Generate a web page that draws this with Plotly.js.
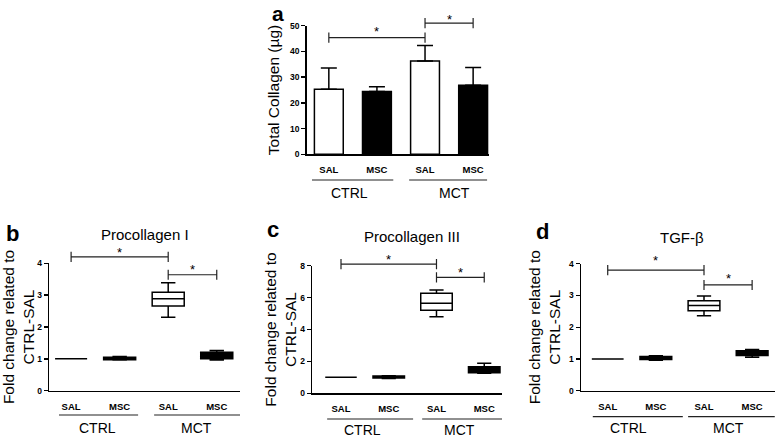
<!DOCTYPE html>
<html><head><meta charset="utf-8">
<script src="https://cdn.plot.ly/plotly-3.0.1.min.js"></script>
<style>html,body{margin:0;padding:0;background:#fff}</style>
</head><body><div id="chart" style="width:778px;height:438px"></div>
<script>
// ---- data ----
const groups = ["CTRL", "CTRL", "MCT", "MCT"];
const treatments = ["SAL", "MSC", "SAL", "MSC"];

// panel a: Total collagen (µg), mean and SD (upper)
const collagenMean = [25.3, 24.4, 36.3, 26.8];
const collagenErr = [8.3, 1.9, 6.0, 6.9];

// panel b: Procollagen I (fold change)
const proc1Low = [1, 0.96, 2.31, 0.96];
const proc1Q1 = [1, 0.97, 2.66, 1.00];
const proc1Med = [1, 1.00, 2.89, 1.10];
const proc1Q3 = [1, 1.05, 3.09, 1.21];
const proc1High = [1, 1.07, 3.39, 1.26];

// panel c: Procollagen III (fold change)
const proc3Low = [1, 0.93, 4.80, 1.25];
const proc3Q1 = [1, 0.96, 5.20, 1.29];
const proc3Med = [1, 1.00, 5.64, 1.50];
const proc3Q3 = [1, 1.08, 6.27, 1.67];
const proc3High = [1, 1.10, 6.48, 1.88];

// panel d: TGF-beta (fold change)
const tgfLow = [1, 0.96, 2.36, 1.05];
const tgfQ1 = [1, 0.98, 2.52, 1.11];
const tgfMed = [1, 1.03, 2.68, 1.19];
const tgfQ3 = [1, 1.08, 2.83, 1.26];
const tgfHigh = [1, 1.10, 2.98, 1.30];

// significance comparisons (index pairs) and bracket levels
const sigPairs = [[0, 2], [2, 3]];
const sigLevelsA = [45.4, 51.0];
const sigLevelsB = [4.2, 3.64];
const sigLevelsC = [8.1, 7.27];
const sigLevelsD = [3.8, 3.33];

// ---- drawing ----
const FONT = 'Liberation Sans, Arial, Helvetica, sans-serif';
const W = 778, H = 438;
const idx = treatments.map((_, i) => i);
const px = x => x / W;
const py = y => 1 - y / H;

const traces = [];
const shapes = [];
const annotations = [];
const layout = {
  width: W, height: H,
  margin: {l: 0, r: 0, t: 0, b: 0},
  paper_bgcolor: '#fff', plot_bgcolor: 'rgba(0,0,0,0)',
  showlegend: false, boxmode: 'overlay',
  font: {family: FONT, color: '#000'},
  shapes: shapes, annotations: annotations
};

function xAxis(domain, range) {
  return {
    domain: domain, range: range, showgrid: false, zeroline: false,
    showline: true, linecolor: '#000', linewidth: 1.5,
    tickmode: 'array', tickvals: idx, ticktext: treatments,
    ticks: 'outside', ticklen: 6, tickcolor: 'rgba(0,0,0,0)',
    tickfont: {family: FONT, size: 9.5, weight: 'bold', color: '#000'},
    fixedrange: true
  };
}
function yAxis(domain, range, dtick, title, standoff, tsize) {
  return {
    domain: domain, range: range, dtick: dtick, showgrid: false, zeroline: false,
    showline: true, linecolor: '#000', linewidth: 1.5,
    ticks: 'outside', ticklen: 4, tickwidth: 1.3, tickcolor: '#000',
    tickfont: {family: FONT, size: 8.5, weight: 'bold', color: '#000'},
    title: {text: title, font: {family: FONT, size: tsize, color: '#000'}, standoff: standoff},
    fixedrange: true
  };
}

function addPanel(n, cfg) {
  const xa = n === 1 ? 'x' : 'x' + n;
  const ya = n === 1 ? 'y' : 'y' + n;
  layout[n === 1 ? 'xaxis' : 'xaxis' + n] = Object.assign(xAxis(cfg.xDomain, cfg.xRange), {anchor: ya});
  layout[n === 1 ? 'yaxis' : 'yaxis' + n] = Object.assign(
    yAxis(cfg.yDomain, cfg.yRange, cfg.dtick, cfg.yTitle, cfg.standoff, cfg.titleSize), {anchor: xa});
  // brackets may rise above the top tick: place them in the y-axis domain frame (not clipped)
  const r = cfg.yRange;
  const frac = v => (v - r[0]) / (r[1] - r[0]);
  sigPairs.forEach((p, k) => {
    const v = cfg.sig[k], d = cfg.tick;
    shapes.push({type: 'path', xref: xa, yref: ya + ' domain',
      path: `M${p[0]},${frac(v - d)} L${p[0]},${frac(v + d)} M${p[0]},${frac(v)} L${p[1]},${frac(v)} M${p[1]},${frac(v - d)} L${p[1]},${frac(v + d)}`,
      line: {color: '#222', width: 1.2}});
    annotations.push({xref: xa, yref: ya + ' domain', x: (p[0] + p[1]) / 2, y: frac(v), text: '*', showarrow: false,
      yanchor: 'middle', yshift: cfg.starShift[k], font: {family: FONT, size: 13, color: '#000'}});
  });
  // group lines and labels
  ['CTRL', 'MCT'].forEach((g, k) => {
    shapes.push({type: 'line', xref: xa, yref: 'paper', x0: cfg.groupSpan[k][0], x1: cfg.groupSpan[k][1],
      y0: cfg.groupLineY, y1: cfg.groupLineY, line: {color: '#222', width: 1.2}});
    annotations.push({xref: xa, yref: 'paper', x: cfg.groupLabelX[k], y: cfg.groupLabelY, text: g,
      showarrow: false, xanchor: 'center', yanchor: 'middle', font: {family: FONT, size: 14, color: '#000'}});
  });
}

// panel a: bars
traces.push({
  type: 'bar', x: idx, y: collagenMean, xaxis: 'x', yaxis: 'y', width: 0.6,
  marker: {color: treatments.map(t => t === 'SAL' ? '#fff' : '#000'), line: {color: '#000', width: 1.5}},
  error_y: {type: 'data', symmetric: false, array: collagenErr, arrayminus: collagenErr.map(() => 0),
    color: '#000', thickness: 1.5, width: 8},
  hoverinfo: 'skip'
});
addPanel(1, {
  xDomain: [px(306.7), px(489)], xRange: [-0.46, 3.33],
  yDomain: [py(154.3), py(25.7)], yRange: [0, 50], dtick: 10,
  yTitle: 'Total Collagen (µg)', standoff: 6, titleSize: 15.5,
  sig: sigLevelsA, tick: 2.0, starShift: [6, 4],
  groupSpan: [[-0.35, 1.34], [1.67, 3.29]], groupLineY: py(180),
  groupLabelX: [0.42, 2.61], groupLabelY: py(193)
});

// box panels
function addBoxes(n, low, q1, med, q3, high) {
  const xa = 'x' + n, ya = 'y' + n;
  ['SAL', 'MSC'].forEach(t => {
    const ids = idx.filter(i => treatments[i] === t);
    traces.push({
      type: 'box', orientation: 'v', xaxis: xa, yaxis: ya, x: ids,
      lowerfence: ids.map(i => low[i]), q1: ids.map(i => q1[i]), median: ids.map(i => med[i]),
      q3: ids.map(i => q3[i]), upperfence: ids.map(i => high[i]),
      width: 0.66, whiskerwidth: 0.45, boxpoints: false,
      fillcolor: t === 'SAL' ? '#fff' : '#000', line: {color: '#000', width: 1.5},
      hoverinfo: 'skip'
    });
  });
}
const fcTitle = 'Fold change related to<br>CTRL-SAL';

addBoxes(2, proc1Low, proc1Q1, proc1Med, proc1Q3, proc1High);
addPanel(2, {
  xDomain: [px(49.3), px(240)], xRange: [-0.449, 3.479],
  yDomain: [py(390.7), py(263.3)], yRange: [0, 4], dtick: 1,
  yTitle: fcTitle, standoff: 5, titleSize: 15.5,
  sig: sigLevelsB, tick: 0.16, starShift: [4, 5],
  groupSpan: [[-0.25, 1.38], [1.71, 3.48]], groupLineY: py(415),
  groupLabelX: [0.54, 2.59], groupLabelY: py(428)
});

addBoxes(3, proc3Low, proc3Q1, proc3Med, proc3Q3, proc3High);
addPanel(3, {
  xDomain: [px(312.3), px(502)], xRange: [-0.601, 3.372],
  yDomain: [py(393.3), py(265.7)], yRange: [0, 8], dtick: 2,
  yTitle: fcTitle, standoff: 0, titleSize: 15.5,
  sig: sigLevelsC, tick: 0.32, starShift: [5, 5],
  groupSpan: [[-0.29, 1.51], [1.70, 3.48]], groupLineY: py(419),
  groupLabelX: [0.45, 2.49], groupLabelY: py(430)
});

addBoxes(4, tgfLow, tgfQ1, tgfMed, tgfQ3, tgfHigh);
addPanel(4, {
  xDomain: [px(581), px(775)], xRange: [-0.555, 3.475],
  yDomain: [py(390.7), py(263.7)], yRange: [0, 4], dtick: 1,
  yTitle: fcTitle, standoff: 4, titleSize: 15.5,
  sig: sigLevelsD, tick: 0.16, starShift: [10, 6],
  groupSpan: [[-0.31, 1.56], [1.67, 3.47]], groupLineY: py(416.7),
  groupLabelX: [0.43, 2.50], groupLabelY: py(428.3)
});

// panel letters and titles
[['b', 12.5, 233], ['c', 273, 229], ['d', 542.5, 231.5]].forEach(l => {
  annotations.push({xref: 'paper', yref: 'paper', x: px(l[1]), y: py(l[2]), text: '<b>' + l[0] + '</b>',
    showarrow: false, xanchor: 'center', yanchor: 'middle', font: {family: FONT, size: 22, color: '#000'}});
});
annotations.push({xref: 'paper', yref: 'paper', x: px(278), y: 1, text: '<b>a</b>',
  showarrow: false, xanchor: 'center', yanchor: 'top', font: {family: FONT, size: 21, color: '#000'}});
[['Procollagen I', 145, 234], ['Procollagen III', 411.7, 236], ['TGF-β', 681.7, 237.5]].forEach(t => {
  annotations.push({xref: 'paper', yref: 'paper', x: px(t[1]), y: py(t[2]), text: t[0],
    showarrow: false, xanchor: 'center', yanchor: 'middle', font: {family: FONT, size: 15, color: '#000'}});
});

Plotly.newPlot('chart', traces, layout, {staticPlot: true, displayModeBar: false});
</script>
</body></html>
